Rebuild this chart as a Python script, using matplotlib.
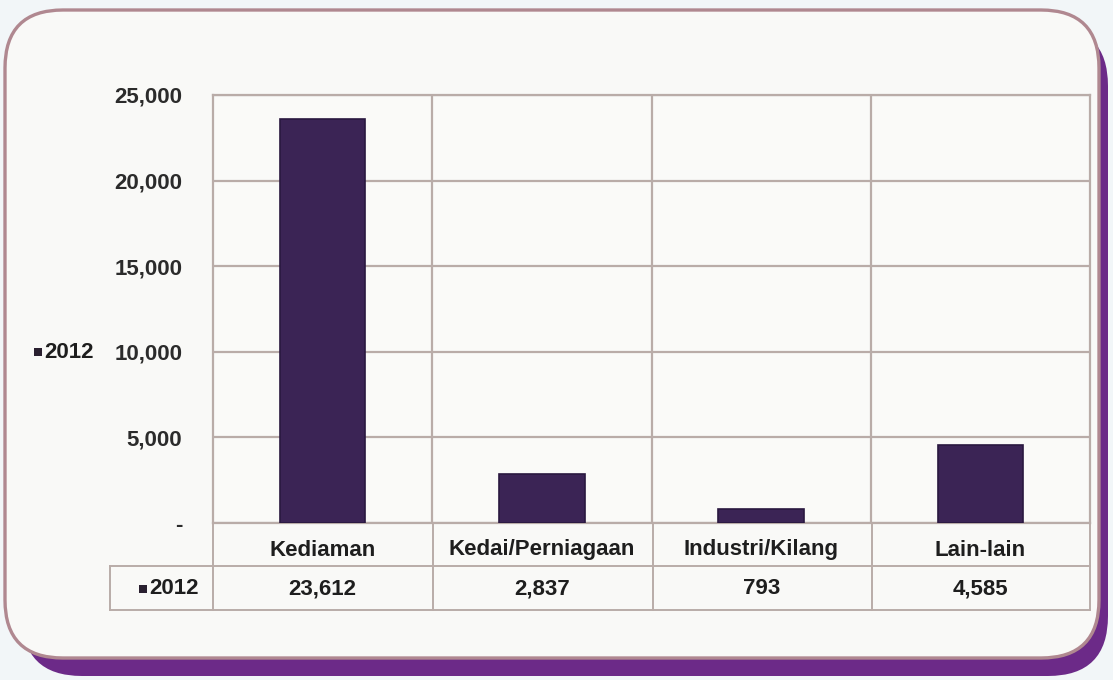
import matplotlib.pyplot as plt
import matplotlib.transforms as mtransforms
from matplotlib.patches import FancyBboxPatch, Rectangle
from matplotlib.lines import Line2D

# Bilangan mengikut jenis premis, 2012
categories = ["Kediaman", "Kedai/Perniagaan", "Industri/Kilang", "Lain-lain"]
values_2012 = [23612, 2837, 793, 4585]
table_labels = ["23,612", "2,837", "793", "4,585"]
yticks = [0, 5000, 10000, 15000, 20000, 25000]
ytick_labels = ["-", "5,000", "10,000", "15,000", "20,000", "25,000"]
series_name = "2012"

W, H = 1113, 680
BAR = "#3b2455"
GRID = "#b9aca8"
FONT = ["Liberation Sans", "DejaVu Sans"]
FS = 16

fig = plt.figure(figsize=(W / 100, H / 100), dpi=100)
fig.patch.set_facecolor("#f2f6f8")

px = mtransforms.IdentityTransform()

# rounded frame: purple band along bottom/right, light panel on top
shadow = FancyBboxPatch((22, H - 676), 1086, 650,
                        boxstyle="round,pad=0,rounding_size=60",
                        transform=px, facecolor="#6c2a88", edgecolor="none", zorder=0)
panel = FancyBboxPatch((5, H - 658), 1094, 648,
                       boxstyle="round,pad=0,rounding_size=58",
                       transform=px, facecolor="#f9f9f7", edgecolor="#b08890",
                       linewidth=2.4, zorder=1)
fig.patches.extend([shadow, panel])

# plot area
left, right, top, bottom = 213, 1090, 95, 523
ax = fig.add_axes([left / W, 1 - bottom / H, (right - left) / W, (bottom - top) / H])
ax.set_facecolor("#fafaf8")
ax.set_zorder(2)

x = list(range(len(categories)))
ax.bar(x, values_2012, width=0.39, color=BAR, edgecolor="#2a1840", linewidth=1.2, zorder=3)

ax.set_xlim(-0.5, len(categories) - 0.5)
ax.set_ylim(0, 25000)
ax.set_yticks(yticks)
ax.set_yticklabels(ytick_labels)
ax.set_xticks([])
ax.tick_params(axis="y", length=0, pad=22, labelsize=FS, labelcolor="#2b2b2b")
for lab in ax.get_yticklabels():
    lab.set_fontfamily(FONT)
    lab.set_fontweight("bold")

ax.grid(axis="y", color=GRID, linewidth=1.6, zorder=1)
for b in [0.5, 1.5, 2.5]:
    ax.axvline(b, color=GRID, linewidth=1.6, zorder=1)
for s in ax.spines.values():
    s.set_color(GRID)
    s.set_linewidth(1.6)

# category labels and data table underneath
tr = mtransforms.blended_transform_factory(ax.transData, fig.transFigure)
for i, name in enumerate(categories):
    ax.text(i, 1 - 550 / H, name, transform=tr, ha="center", va="center",
            fontsize=FS, fontweight="bold", family=FONT, color="#1e1e1e")
    ax.text(i, 1 - 589 / H, table_labels[i], transform=tr, ha="center", va="center",
            fontsize=FS, fontweight="bold", family=FONT, color="#1e1e1e")

for yy in [566, 610]:
    fig.add_artist(Line2D([110 / W, right / W], [1 - yy / H] * 2,
                          color=GRID, linewidth=1.4, zorder=3))
for xx in [213, 433, 653, 872, 1090]:
    fig.add_artist(Line2D([xx / W] * 2, [1 - 523 / H, 1 - 610 / H],
                          color=GRID, linewidth=1.4, zorder=3))
fig.add_artist(Line2D([110 / W] * 2, [1 - 566 / H, 1 - 610 / H],
                      color=GRID, linewidth=1.4, zorder=3))

# legend keys: table row header and the side legend
for kx, ky in [(143, 589), (38, 352)]:
    fig.add_artist(Rectangle(((kx - 4) / W, 1 - (ky + 4) / H), 8 / W, 8 / H,
                             transform=fig.transFigure, facecolor="#2a2030",
                             edgecolor="none", zorder=4))
    fig.text((kx + 6) / W, 1 - ky / H, series_name, ha="left", va="center",
             fontsize=FS, fontweight="bold", family=FONT, color="#1e1e1e", zorder=4)

fig.savefig("out.png", dpi=100, facecolor=fig.get_facecolor())
